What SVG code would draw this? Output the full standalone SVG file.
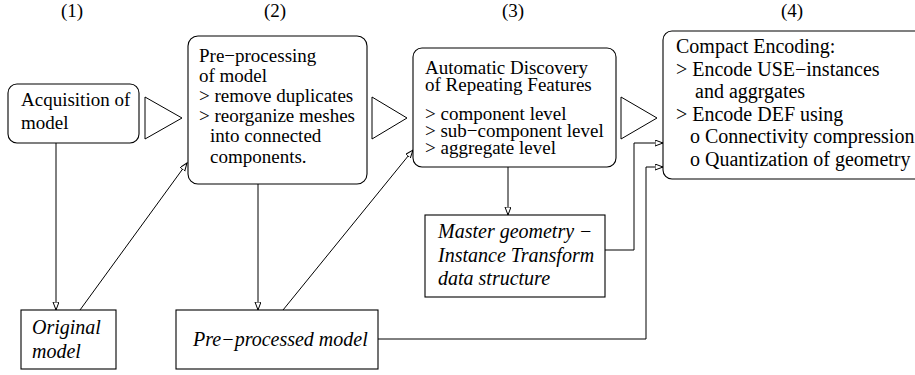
<svg xmlns="http://www.w3.org/2000/svg" width="915" height="375" viewBox="0 0 915 375">
<style>
text{font-family:"Liberation Serif","Times New Roman",serif;font-size:19px;fill:#000}
.it{font-style:italic;font-size:20px}
.hd{text-anchor:middle}
.big{font-size:20px}
.box{fill:#fff;stroke:#000;stroke-width:1.1}
.tri{fill:#fff;stroke:#000;stroke-width:1}
.con{fill:none;stroke:#000;stroke-width:1}
</style>
<defs>
<marker id="ah" markerUnits="userSpaceOnUse" markerWidth="10" markerHeight="8" refX="8" refY="3" orient="auto">
<path d="M0,0 L8,3 L0,6 Z" fill="#fff" stroke="#000" stroke-width="1"/>
</marker>
</defs>
<g id="headers">
<text class="hd" x="72" y="17">(1)</text>
<text class="hd" x="275" y="17">(2)</text>
<text class="hd" x="513" y="17">(3)</text>
<text class="hd" x="792" y="17">(4)</text>
</g>
<g id="connectors">
<path class="con" d="M56,143 L56,310" marker-end="url(#ah)"/>
<path class="con" d="M80,310 L187,163" marker-end="url(#ah)"/>
<path class="con" d="M258,184 L258,310" marker-end="url(#ah)"/>
<path class="con" d="M283,310 L413,150" marker-end="url(#ah)"/>
<path class="con" d="M508,167 L508,215" marker-end="url(#ah)"/>
<path class="con" d="M605,250 L634,250 L634,143 L663,143" marker-end="url(#ah)"/>
<path class="con" d="M378,339 L646,339 L646,167 L663,167" marker-end="url(#ah)"/>
</g>
<g id="flow-arrows">
<polygon class="tri" points="145,97 182,118 145,139"/>
<polygon class="tri" points="372,97 407,118 372,139"/>
<polygon class="tri" points="621,97 657,118 621,139"/>
</g>
<g id="acquisition">
<rect class="box" x="8" y="84" width="131" height="59" rx="9"/>
<text x="21" y="106">Acquisition of</text>
<text x="21" y="129">model</text>
</g>
<g id="preprocessing">
<rect class="box" x="188" y="36" width="179" height="148" rx="10"/>
<text x="199" y="62">Pre−processing</text>
<text x="199" y="82">of model</text>
<text x="199" y="102">&gt; remove duplicates</text>
<text x="199" y="122">&gt; reorganize meshes</text>
<text x="210" y="142">into connected</text>
<text x="210" y="163">components.</text>
</g>
<g id="discovery">
<rect class="box" x="413" y="48" width="203" height="119" rx="9"/>
<text x="425" y="74">Automatic Discovery</text>
<text x="425" y="91">of Repeating Features</text>
<text x="425" y="120">&gt; component level</text>
<text x="425" y="137">&gt; sub−component level</text>
<text x="425" y="154">&gt; aggregate level</text>
</g>
<g id="encoding">
<rect class="box" x="663" y="31" width="270" height="148" rx="9"/>
<text class="big" x="676" y="53">Compact Encoding:</text>
<text class="big" x="676" y="76">&gt; Encode USE−instances</text>
<text class="big" x="695" y="98">and aggrgates</text>
<text class="big" x="676" y="121">&gt; Encode DEF using</text>
<text class="big" x="690" y="143">o Connectivity compression</text>
<text class="big" x="690" y="166">o Quantization of geometry</text>
</g>
<g id="original">
<rect class="box" x="21" y="310" width="95" height="59"/>
<text class="it" x="32" y="334">Original</text>
<text class="it" x="32" y="358">model</text>
</g>
<g id="preprocessed">
<rect class="box" x="176" y="310" width="202" height="59"/>
<text class="it" x="193" y="346">Pre−processed model</text>
</g>
<g id="master">
<rect class="box" x="425" y="215" width="180" height="82"/>
<text class="it" x="438" y="238">Master geometry −</text>
<text class="it" x="438" y="262">Instance Transform</text>
<text class="it" x="438" y="285">data structure</text>
</g>
</svg>
